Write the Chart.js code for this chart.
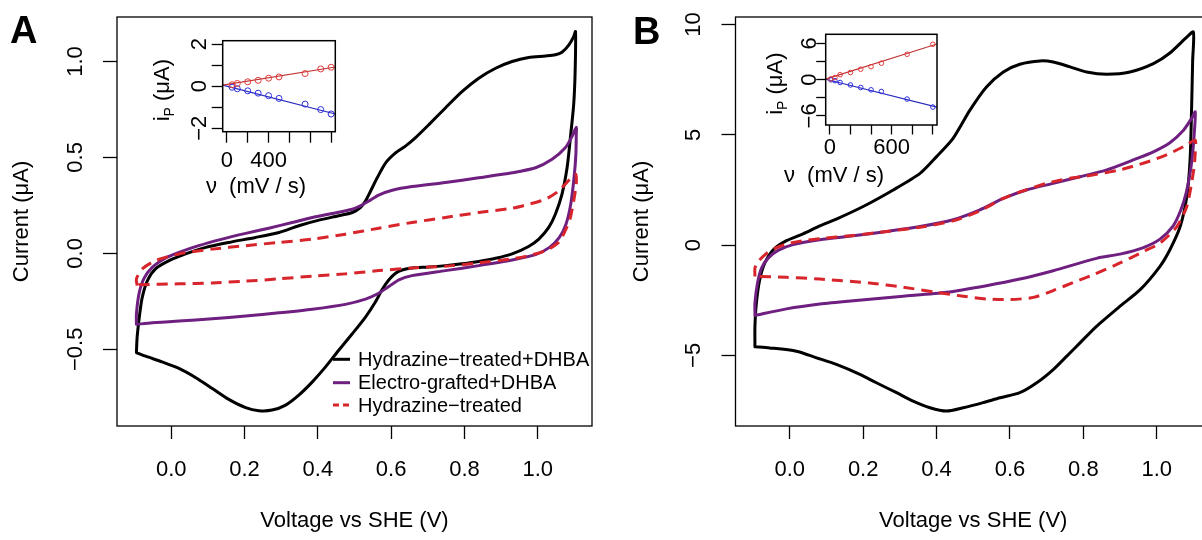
<!DOCTYPE html>
<html><head><meta charset="utf-8">
<script src="https://cdn.jsdelivr.net/npm/chart.js@4/dist/chart.umd.min.js"></script>
<style>
html,body{margin:0;padding:0;background:#fff;overflow:hidden;width:1202px;height:540px;position:relative;}
canvas{position:absolute;}
</style></head><body>
<canvas id="mainA" width="600" height="540" style="left:0px;top:0px"></canvas>
<canvas id="mainB" width="594" height="540" style="left:618px;top:0px"></canvas>
<canvas id="insetA" width="220" height="180" style="left:140px;top:25px"></canvas>
<canvas id="insetB" width="220" height="180" style="left:740px;top:20px"></canvas>
<script>
// ---------------- DATA ----------------
const xTickValues = [0, 0.2, 0.4, 0.6, 0.8, 1.0];
const xTickLabels = ['0.0', '0.2', '0.4', '0.6', '0.8', '1.0'];
const aYTickValues = [-0.5, 0, 0.5, 1.0];
const aYTickLabels = ['\u22120.5', '0.0', '0.5', '1.0'];
const bYTickValues = [-5, 0, 5, 10];
const bYTickLabels = ['\u22125', '0', '5', '10'];
const seriesLabels = ['Hydrazine\u2212treated+DHBA', 'Electro-grafted+DHBA', 'Hydrazine\u2212treated'];

// Panel A (voltage V, current uA), closed loop: forward scan then reverse scan
const aBlackV = [-0.095,-0.093,-0.086,-0.079,-0.065,-0.043,-0.006,0.039,0.094,0.157,0.230,0.294,0.348,0.403,0.457,0.494,0.516,0.530,0.544,0.562,0.585,0.612,0.639,0.666,0.703,0.748,0.794,0.839,0.885,0.930,0.975,1.021,1.048,1.066,1.085,1.098,1.103,
  1.102,1.098,1.089,1.080,1.066,1.048,1.030,1.003,0.975,0.930,0.885,0.839,0.794,0.748,0.703,0.657,0.630,0.612,0.594,0.575,0.557,0.530,0.494,0.457,0.421,0.385,0.348,0.312,0.275,0.239,0.203,0.157,0.112,0.066,0.021,-0.025,-0.070,-0.095];
const aBlackI = [-0.514,-0.436,-0.315,-0.228,-0.142,-0.081,-0.038,-0.003,0.031,0.057,0.083,0.109,0.144,0.173,0.196,0.213,0.239,0.273,0.325,0.394,0.472,0.524,0.559,0.602,0.671,0.758,0.844,0.913,0.965,1.000,1.021,1.029,1.035,1.048,1.087,1.130,1.156,
  0.948,0.775,0.602,0.446,0.308,0.204,0.135,0.074,0.036,-0.003,-0.026,-0.042,-0.054,-0.064,-0.071,-0.076,-0.087,-0.104,-0.138,-0.190,-0.254,-0.332,-0.419,-0.505,-0.592,-0.670,-0.739,-0.791,-0.817,-0.820,-0.804,-0.761,-0.704,-0.647,-0.600,-0.566,-0.536,-0.517];
const aPurpleV = [-0.095,-0.095,-0.088,-0.075,-0.052,-0.015,0.021,0.075,0.139,0.203,0.266,0.330,0.385,0.439,0.494,0.516,0.539,0.566,0.603,0.657,0.748,0.839,0.930,0.994,1.039,1.075,1.094,1.105,
  1.105,1.104,1.099,1.090,1.077,1.059,1.032,0.994,0.930,0.839,0.748,0.657,0.621,0.594,0.566,0.530,0.475,0.385,0.294,0.203,0.112,0.021,-0.052,-0.095];
const aPurpleI = [-0.367,-0.315,-0.211,-0.133,-0.073,-0.024,0.005,0.040,0.074,0.104,0.131,0.161,0.187,0.208,0.230,0.247,0.273,0.304,0.329,0.348,0.369,0.394,0.420,0.446,0.490,0.550,0.611,0.657,
  0.611,0.516,0.394,0.256,0.152,0.083,0.031,-0.007,-0.035,-0.064,-0.090,-0.116,-0.138,-0.173,-0.208,-0.239,-0.266,-0.291,-0.310,-0.327,-0.341,-0.353,-0.362,-0.370];
const aRedV = [-0.093,-0.095,-0.079,-0.043,0.021,0.112,0.203,0.294,0.385,0.475,0.566,0.657,0.748,0.839,0.930,0.975,1.021,1.057,1.085,1.098,1.104,
  1.105,1.098,1.089,1.075,1.057,1.021,0.975,0.930,0.839,0.748,0.657,0.566,0.475,0.385,0.294,0.203,0.112,0.021,-0.088,-0.093];
const aRedI = [-0.168,-0.133,-0.081,-0.038,-0.003,0.022,0.040,0.057,0.074,0.100,0.131,0.161,0.187,0.213,0.235,0.256,0.282,0.325,0.381,0.405,0.412,
  0.360,0.273,0.187,0.118,0.057,0.014,-0.012,-0.029,-0.050,-0.067,-0.076,-0.090,-0.107,-0.119,-0.133,-0.145,-0.154,-0.159,-0.164,-0.168];

// Panel B
const bBlackV = [-0.095,-0.095,-0.091,-0.082,-0.068,-0.045,-0.009,0.036,0.082,0.127,0.200,0.282,0.355,0.400,0.445,0.491,0.536,0.582,0.627,0.682,0.718,0.764,0.809,0.864,0.927,0.991,1.036,1.082,1.100,
  1.098,1.095,1.091,1.082,1.064,1.036,1.009,0.955,0.900,0.836,0.791,0.755,0.718,0.673,0.627,0.573,0.527,0.473,0.427,0.382,0.336,0.291,0.236,0.191,0.127,0.073,0.018,-0.055,-0.095];
const bBlackI = [-4.61,-3.68,-2.62,-1.57,-0.81,-0.21,0.20,0.51,0.87,1.18,1.75,2.50,3.25,4.01,4.84,6.12,7.17,7.85,8.20,8.35,8.30,8.08,7.85,7.75,7.85,8.23,8.71,9.43,9.66,
  8.38,6.12,3.86,2.20,0.84,-0.21,-0.96,-2.02,-2.77,-3.68,-4.43,-5.03,-5.64,-6.24,-6.69,-6.92,-7.14,-7.37,-7.52,-7.37,-7.07,-6.69,-6.24,-5.86,-5.41,-5.11,-4.81,-4.66,-4.61];
const bPurpleV = [-0.095,-0.095,-0.088,-0.077,-0.059,-0.032,0.009,0.082,0.173,0.264,0.355,0.445,0.518,0.582,0.645,0.718,0.791,0.864,0.936,0.991,1.036,1.073,1.095,1.105,
  1.103,1.098,1.091,1.080,1.066,1.045,1.009,0.964,0.900,0.836,0.718,0.627,0.536,0.427,0.309,0.173,0.082,-0.009,-0.095];
const bPurpleI = [-3.19,-2.62,-1.72,-1.04,-0.59,-0.24,0.02,0.24,0.42,0.62,0.84,1.15,1.60,2.12,2.50,2.80,3.10,3.41,3.86,4.23,4.64,5.21,5.74,6.04,
  5.21,4.16,3.26,2.35,1.60,0.87,0.27,-0.11,-0.41,-0.60,-1.16,-1.54,-1.84,-2.14,-2.32,-2.52,-2.67,-2.89,-3.19];
const bRedV = [-0.095,-0.095,-0.086,-0.068,-0.045,-0.009,0.036,0.082,0.173,0.264,0.355,0.445,0.518,0.582,0.627,0.700,0.764,0.809,0.900,0.945,0.991,1.036,1.082,1.105,
  1.105,1.102,1.095,1.082,1.055,1.009,0.964,0.900,0.827,0.773,0.718,0.664,0.600,0.536,0.473,0.400,0.309,0.218,0.082,-0.009,-0.095];
const bRedI = [-1.42,-1.04,-0.74,-0.44,-0.18,0.05,0.20,0.29,0.44,0.62,0.81,1.10,1.55,2.12,2.41,2.80,3.03,3.13,3.41,3.62,3.86,4.16,4.54,4.76,
  4.16,3.56,2.80,1.75,0.84,0.09,-0.29,-0.81,-1.34,-1.69,-2.06,-2.37,-2.47,-2.44,-2.32,-2.14,-1.91,-1.72,-1.54,-1.46,-1.42];

// Insets: peak current vs scan rate
const insetXTickValues = [0, 200, 400, 600, 800, 1000];
const insetAXTickLabels = ['0', '', '400', '', '', ''];
const insetBXTickLabels = ['0', '', '', '600', '', ''];
const insetAYTickValues = [-2, -1, 0, 1, 2];
const insetAYLabelValues = [-2, 0, 2];
const insetAYLabels = ['\u22122', '0', '2'];
const insetBYTickValues = [-6, -3, 0, 3, 6];
const insetBYLabelValues = [-6, 0, 6];
const insetBYLabels = ['\u22126', '0', '6'];
const insetAScan = [50, 100, 200, 300, 400, 500, 750, 900, 1000];
const insetARed = [0.07, 0.13, 0.21, 0.28, 0.38, 0.44, 0.60, 0.82, 0.90];
const insetABlue = [-0.05, -0.12, -0.22, -0.33, -0.45, -0.58, -0.85, -1.11, -1.32];
const insetBScan = [10, 50, 100, 200, 300, 400, 500, 750, 1000];
const insetBRed = [0.13, 0.35, 0.82, 1.18, 1.73, 2.15, 2.72, 4.20, 5.85];
const insetBBlue = [-0.03, -0.17, -0.47, -0.88, -1.30, -1.68, -1.95, -3.21, -4.53];
const insetFitX = [-40, 1040];
const insetAFitRed = [0.05, 0.91];
const insetAFitBlue = [0.05, -1.32];
const insetBFitRed = [0.08, 5.90];
const insetBFitBlue = [0.06, -4.56];

// ---------------- STYLE / DRAWING ----------------
const FONT = "'Liberation Sans', Arial, Helvetica, sans-serif";
Chart.defaults.font.family = FONT;
Chart.defaults.color = '#000';
const C_BLACK = '#000000', C_PURPLE = '#6E1F7F', C_RED = '#D8242B';
const C_PT_RED = '#E03A3A', C_LN_RED = '#C23232', C_PT_BLUE = '#2E2EDD', C_LN_BLUE = '#2A2ABE';

function toXY(xs, ys) { return xs.map((x, k) => ({x: x, y: ys[k]})); }

function curve(label, V, I, color, dashed, order) {
  return {label, data: toXY(V, I), showLine: true, borderColor: color, backgroundColor: color,
    borderWidth: 3, pointRadius: 0, pointHoverRadius: 0, tension: 0.25, fill: false,
    borderDash: dashed ? [11, 7] : [], borderCapStyle: dashed ? 'butt' : 'round', borderJoinStyle: 'round', order};
}

function framePlugin(lw) {
  return {id: 'frame', afterDatasetsDraw(chart) {
    const {ctx, chartArea: a} = chart;
    ctx.save(); ctx.strokeStyle = '#000'; ctx.lineWidth = lw; ctx.setLineDash([]);
    ctx.strokeRect(a.left, a.top, a.right - a.left, a.bottom - a.top); ctx.restore();
  }};
}

function yLabelPlugin(values, labels, offset, size) {
  return {id: 'ylabels', afterDraw(chart) {
    const {ctx, chartArea: a, scales: {y}} = chart;
    ctx.save(); ctx.fillStyle = '#000'; ctx.font = size + 'px ' + FONT;
    ctx.textAlign = 'center'; ctx.textBaseline = 'alphabetic';
    values.forEach((v, k) => {
      const py = y.getPixelForValue(v);
      ctx.save(); ctx.translate(a.left - offset + 0.358 * size, py); ctx.rotate(-Math.PI / 2);
      ctx.fillText(labels[k], 0, 0); ctx.restore();
    });
    ctx.restore();
  }};
}

function letterPlugin(letter, x, y) {
  return {id: 'letter', afterDraw(chart) {
    const ctx = chart.ctx;
    ctx.save(); ctx.fillStyle = '#000'; ctx.font = 'bold 38px ' + FONT;
    ctx.textAlign = 'left'; ctx.textBaseline = 'alphabetic'; ctx.fillText(letter, x, y); ctx.restore();
  }};
}

const legendPlugin = {id: 'cvLegend', afterDraw(chart) {
  const {ctx, chartArea: a} = chart;
  const rows = [-66.7, -43.3, -21];
  ctx.save(); ctx.font = '20px ' + FONT; ctx.textBaseline = 'middle'; ctx.textAlign = 'left';
  chart.data.datasets.forEach((d, k) => {
    const y = a.bottom + rows[k];
    ctx.strokeStyle = d.borderColor; ctx.lineWidth = 3; ctx.lineCap = 'butt';
    ctx.setLineDash(d.borderDash.length ? [6, 4] : []);
    ctx.beginPath(); ctx.moveTo(a.right - 259, y); ctx.lineTo(a.right - 242, y); ctx.stroke();
    ctx.setLineDash([]);
    ctx.fillStyle = '#000'; ctx.fillText(d.label, a.right - 234, y + 1);
  });
  ctx.restore();
}};

function mainChart(id, cfg) {
  const grid = {display: true, drawOnChartArea: false, drawTicks: true, tickColor: '#000', tickWidth: 1.3};
  return new Chart(document.getElementById(id), {
    type: 'scatter',
    data: {datasets: cfg.datasets},
    options: {
      responsive: false, animation: false, events: [],
      layout: {padding: {left: 0, right: cfg.padRight, top: 17, bottom: 0}},
      plugins: {legend: {display: false}, tooltip: {enabled: false}},
      scales: {
        x: {type: 'linear', min: -0.148, max: 1.148,
          afterBuildTicks: s => { s.ticks = xTickValues.map(v => ({value: v})); },
          afterFit: s => { s.height = 114; },
          ticks: {autoSkip: false, maxRotation: 0, minRotation: 0, padding: 18, color: '#000', font: {size: 22},
            callback: (v, i) => xTickLabels[i]},
          grid: Object.assign({tickLength: 13}, grid),
          border: {display: false},
          title: {display: true, text: 'Voltage vs SHE (V)', color: '#000', font: {size: 22}, padding: {top: 0, bottom: 6}}},
        y: {type: 'linear', min: cfg.yMin, max: cfg.yMax,
          afterBuildTicks: s => { s.ticks = cfg.yTicks.map(v => ({value: v})); },
          afterFit: s => { s.width = cfg.yWidth; },
          ticks: {display: false},
          grid: Object.assign({tickLength: 14}, grid),
          border: {display: false},
          title: {display: true, text: 'Current (\u03BCA)', color: '#000', font: {size: 22}, padding: {top: cfg.titlePad, bottom: 0}}}
      }
    },
    plugins: cfg.plugins
  });
}

function insetTitlePlugin(cfg) {
  return {id: 'insetTitles', afterDraw(chart) {
    const {ctx, chartArea: a} = chart;
    ctx.save(); ctx.fillStyle = '#000';
    // x title
    ctx.font = '22px ' + FONT; ctx.textAlign = 'center'; ctx.textBaseline = 'middle';
    ctx.fillText('\u03BD  (mV / s)', a.left + cfg.xTitleDx, a.bottom + cfg.xTitleDy);
    // y title  i_P (uA)
    const big = 22, small = 14;
    ctx.font = big + 'px ' + FONT; const w1 = ctx.measureText('i').width; const w3 = ctx.measureText(' (\u03BCA)').width;
    ctx.font = small + 'px ' + FONT; const w2 = ctx.measureText('P').width;
    const W = w1 + w2 + w3;
    ctx.translate(a.left - cfg.yTitleDx + 0.3 * big, (a.top + a.bottom) / 2 + cfg.yTitleDy);
    ctx.rotate(-Math.PI / 2);
    ctx.textAlign = 'left'; ctx.textBaseline = 'alphabetic';
    ctx.font = big + 'px ' + FONT; ctx.fillText('i', -W / 2, 0);
    ctx.font = small + 'px ' + FONT; ctx.fillText('P', -W / 2 + w1, 5);
    ctx.font = big + 'px ' + FONT; ctx.fillText(' (\u03BCA)', -W / 2 + w1 + w2, 0);
    ctx.restore();
  }};
}

function insetChart(id, cfg) {
  const grid = {display: true, drawOnChartArea: false, drawTicks: true, tickColor: '#000', tickWidth: 1.3, tickLength: cfg.tick};
  const fit = (ys, color) => ({data: toXY(insetFitX, ys), showLine: true, borderColor: color, borderWidth: 1.2,
    pointRadius: 0, tension: 0, fill: false, order: 2});
  const pts = (ys, color) => ({data: toXY(cfg.scan, ys), showLine: false, borderColor: color, backgroundColor: 'rgba(0,0,0,0)',
    pointRadius: cfg.r, pointBorderWidth: 1, pointStyle: 'circle', order: 1});
  return new Chart(document.getElementById(id), {
    type: 'scatter',
    data: {datasets: [fit(cfg.fitRed, C_LN_RED), fit(cfg.fitBlue, C_LN_BLUE), pts(cfg.red, C_PT_RED), pts(cfg.blue, C_PT_BLUE)]},
    options: {
      responsive: false, animation: false, events: [],
      layout: {padding: {left: 0, top: cfg.padTop, right: cfg.padRight, bottom: 0}},
      plugins: {legend: {display: false}, tooltip: {enabled: false}},
      scales: {
        x: {type: 'linear', min: insetFitX[0], max: insetFitX[1],
          afterBuildTicks: s => { s.ticks = insetXTickValues.map(v => ({value: v})); },
          afterFit: s => { s.height = cfg.xHeight; },
          ticks: {autoSkip: false, maxRotation: 0, minRotation: 0, padding: cfg.xPad, color: '#000', font: {size: 22},
            callback: (v, i) => cfg.xLabels[i]},
          grid: grid, border: {display: false}},
        y: {type: 'linear', min: cfg.yMin, max: cfg.yMax,
          afterBuildTicks: s => { s.ticks = cfg.yTicks.map(v => ({value: v})); },
          afterFit: s => { s.width = cfg.yWidth; },
          ticks: {display: false}, grid: grid, border: {display: false}}
      }
    },
    plugins: [framePlugin(1.5), yLabelPlugin(cfg.yLabelValues, cfg.yLabels, cfg.yLabelOffset, 22), insetTitlePlugin(cfg)]
  });
}

// ---------------- CHARTS ----------------
mainChart('mainA', {
  datasets: [curve(seriesLabels[0], aBlackV, aBlackI, C_BLACK, false, 2),
             curve(seriesLabels[1], aPurpleV, aPurpleI, C_PURPLE, false, 1),
             curve(seriesLabels[2], aRedV, aRedI, C_RED, true, 0)],
  padRight: 8, yWidth: 117, yMin: -0.9, yMax: 1.232, yTicks: aYTickValues, titlePad: 9,
  plugins: [framePlugin(1.3), yLabelPlugin(aYTickValues, aYTickLabels, 43, 22), letterPlugin('A', 10, 43), legendPlugin]
});
mainChart('mainB', {
  datasets: [curve(seriesLabels[0], bBlackV, bBlackI, C_BLACK, false, 2),
             curve(seriesLabels[1], bPurpleV, bPurpleI, C_PURPLE, false, 1),
             curve(seriesLabels[2], bRedV, bRedI, C_RED, true, 0)],
  padRight: 1, yWidth: 117.5, yMin: -8.2, yMax: 10.34, yTicks: bYTickValues, titlePad: 11,
  plugins: [framePlugin(1.3), yLabelPlugin(bYTickValues, bYTickLabels, 43, 22), letterPlugin('B', 15, 44)]
});
insetChart('insetA', {
  scan: insetAScan, red: insetARed, blue: insetABlue, fitRed: insetAFitRed, fitBlue: insetAFitBlue, r: 3,
  padTop: 15.7, padRight: 24.7, xHeight: 73.3, yWidth: 82.7, tick: 11, xPad: 5,
  yMin: -2.16, yMax: 2.16, yTicks: insetAYTickValues, yLabelValues: insetAYLabelValues, yLabels: insetAYLabels, yLabelOffset: 24.7,
  xLabels: insetAXTickLabels, xTitleDx: 33.3, xTitleDy: 55.3, yTitleDx: 60, yTitleDy: 4
});
insetChart('insetB', {
  scan: insetBScan, red: insetBRed, blue: insetBBlue, fitRed: insetBFitRed, fitBlue: insetBFitBlue, r: 2.3,
  padTop: 14.3, padRight: 23, xHeight: 75, yWidth: 85.7, tick: 9.5, xPad: 0.5,
  yMin: -7.5, yMax: 7.5, yTicks: insetBYTickValues, yLabelValues: insetBYLabelValues, yLabels: insetBYLabels, yLabelOffset: 18,
  xLabels: insetBXTickLabels, xTitleDx: 8.3, xTitleDy: 51, yTitleDx: 50.7, yTitleDy: 4
});
</script></body></html>
